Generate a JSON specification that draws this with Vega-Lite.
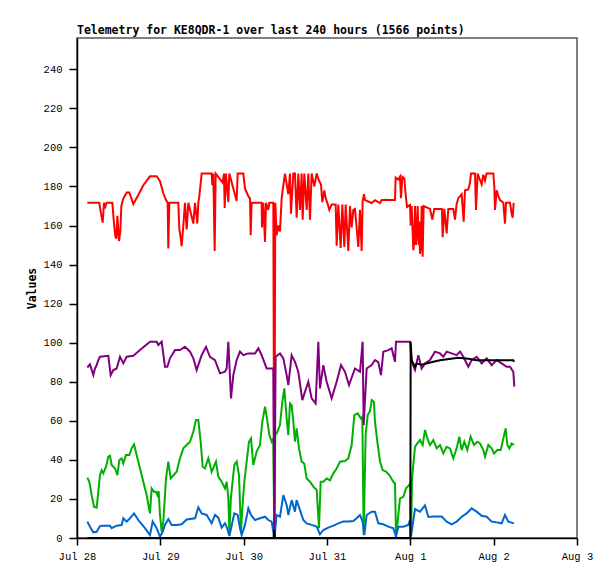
{
  "$schema": "https://vega.github.io/schema/vega-lite/v6.json",
  "width": 500,
  "height": 500,
  "autosize": {"type": "none"},
  "padding": {"left": 77, "top": 38, "right": 38, "bottom": 41},
  "background": "white",
  "title": {
    "text": "Telemetry for KE8QDR-1 over last 240 hours (1566 points)",
    "anchor": "start",
    "frame": "group",
    "font": "DejaVu Sans Mono",
    "fontSize": 11.5,
    "fontWeight": "bold",
    "color": "black",
    "offset": 2
  },
  "config": {
    "view": {"stroke": "#555555", "strokeWidth": 1.5},
    "axis": {
      "grid": false,
      "domainColor": "black",
      "domainWidth": 1.5,
      "tickColor": "black",
      "tickWidth": 1.5,
      "labelFont": "Liberation Mono",
      "labelFontSize": 10.5,
      "labelColor": "black",
      "labelFlush": false,
      "titleFont": "DejaVu Sans Mono",
      "titleColor": "black"
    }
  },
  "data": {
    "values": [
      {"s": "ch1", "h": 2.98, "v": 171.6}, {"s": "ch1", "h": 6.43, "v": 171.6}, {"s": "ch1", "h": 6.82, "v": 167},
      {"s": "ch1", "h": 7.39, "v": 161.5}, {"s": "ch1", "h": 7.78, "v": 171.6}, {"s": "ch1", "h": 8.16, "v": 169.6},
      {"s": "ch1", "h": 8.54, "v": 171.6}, {"s": "ch1", "h": 10.18, "v": 171.6}, {"s": "ch1", "h": 10.66, "v": 161},
      {"s": "ch1", "h": 11.04, "v": 154.5}, {"s": "ch1", "h": 11.33, "v": 153.3}, {"s": "ch1", "h": 11.62, "v": 165},
      {"s": "ch1", "h": 12.1, "v": 152}, {"s": "ch1", "h": 12.48, "v": 157}, {"s": "ch1", "h": 12.77, "v": 170},
      {"s": "ch1", "h": 13.34, "v": 173.8}, {"s": "ch1", "h": 14.3, "v": 176.9}, {"s": "ch1", "h": 15.07, "v": 176.9},
      {"s": "ch1", "h": 16.22, "v": 171}, {"s": "ch1", "h": 17.66, "v": 175.6}, {"s": "ch1", "h": 19.1, "v": 180.6},
      {"s": "ch1", "h": 21.02, "v": 185.2}, {"s": "ch1", "h": 22.94, "v": 185.2}, {"s": "ch1", "h": 23.9, "v": 182.7},
      {"s": "ch1", "h": 24.86, "v": 176.5}, {"s": "ch1", "h": 25.63, "v": 173}, {"s": "ch1", "h": 26.11, "v": 171.6},
      {"s": "ch1", "h": 26.3, "v": 148.2}, {"s": "ch1", "h": 26.59, "v": 171.6}, {"s": "ch1", "h": 29.18, "v": 171.6},
      {"s": "ch1", "h": 29.47, "v": 158.4}, {"s": "ch1", "h": 29.86, "v": 153.7}, {"s": "ch1", "h": 30.14, "v": 149.4},
      {"s": "ch1", "h": 30.62, "v": 160}, {"s": "ch1", "h": 31.1, "v": 171.6}, {"s": "ch1", "h": 31.58, "v": 158},
      {"s": "ch1", "h": 32.06, "v": 171.6}, {"s": "ch1", "h": 33.5, "v": 161}, {"s": "ch1", "h": 33.98, "v": 171.6},
      {"s": "ch1", "h": 34.66, "v": 161}, {"s": "ch1", "h": 34.94, "v": 171.6}, {"s": "ch1", "h": 35.23, "v": 175},
      {"s": "ch1", "h": 35.9, "v": 186.6}, {"s": "ch1", "h": 38.78, "v": 186.6}, {"s": "ch1", "h": 38.98, "v": 180.6},
      {"s": "ch1", "h": 39.26, "v": 186.6}, {"s": "ch1", "h": 39.65, "v": 147}, {"s": "ch1", "h": 39.94, "v": 186.6},
      {"s": "ch1", "h": 41.95, "v": 182}, {"s": "ch1", "h": 42.34, "v": 186.6}, {"s": "ch1", "h": 42.53, "v": 169},
      {"s": "ch1", "h": 42.91, "v": 186.6}, {"s": "ch1", "h": 43.58, "v": 172}, {"s": "ch1", "h": 43.87, "v": 186.6},
      {"s": "ch1", "h": 45.98, "v": 172.5}, {"s": "ch1", "h": 46.27, "v": 186.6}, {"s": "ch1", "h": 47.9, "v": 186.6},
      {"s": "ch1", "h": 48.38, "v": 179}, {"s": "ch1", "h": 49.34, "v": 175}, {"s": "ch1", "h": 49.82, "v": 173.8},
      {"s": "ch1", "h": 50.02, "v": 155}, {"s": "ch1", "h": 50.3, "v": 171.6}, {"s": "ch1", "h": 53.18, "v": 171.6},
      {"s": "ch1", "h": 53.28, "v": 159}, {"s": "ch1", "h": 53.66, "v": 171.6}, {"s": "ch1", "h": 54.14, "v": 151.6},
      {"s": "ch1", "h": 54.43, "v": 171.6}, {"s": "ch1", "h": 55.1, "v": 168}, {"s": "ch1", "h": 55.39, "v": 171.6},
      {"s": "ch1", "h": 56.54, "v": 171.6}, {"s": "ch1", "h": 56.82, "v": 0}, {"s": "ch1", "h": 57.1, "v": 171.6},
      {"s": "ch1", "h": 57.5, "v": 155}, {"s": "ch1", "h": 57.98, "v": 160}, {"s": "ch1", "h": 58.46, "v": 157},
      {"s": "ch1", "h": 58.94, "v": 173.8}, {"s": "ch1", "h": 59.42, "v": 180.6}, {"s": "ch1", "h": 59.9, "v": 186.6},
      {"s": "ch1", "h": 60.86, "v": 176}, {"s": "ch1", "h": 61.34, "v": 186.6}, {"s": "ch1", "h": 61.63, "v": 166},
      {"s": "ch1", "h": 62.3, "v": 186.6}, {"s": "ch1", "h": 62.78, "v": 186.6}, {"s": "ch1", "h": 63.26, "v": 164},
      {"s": "ch1", "h": 63.74, "v": 186.6}, {"s": "ch1", "h": 64.22, "v": 168}, {"s": "ch1", "h": 64.7, "v": 186.6},
      {"s": "ch1", "h": 64.99, "v": 163}, {"s": "ch1", "h": 65.47, "v": 186.6}, {"s": "ch1", "h": 66.14, "v": 168},
      {"s": "ch1", "h": 66.62, "v": 186.6}, {"s": "ch1", "h": 67.1, "v": 163}, {"s": "ch1", "h": 67.58, "v": 186.6},
      {"s": "ch1", "h": 68.35, "v": 180}, {"s": "ch1", "h": 69.02, "v": 186.6}, {"s": "ch1", "h": 69.69, "v": 183},
      {"s": "ch1", "h": 70.27, "v": 181}, {"s": "ch1", "h": 70.65, "v": 172}, {"s": "ch1", "h": 71.23, "v": 178},
      {"s": "ch1", "h": 71.61, "v": 174}, {"s": "ch1", "h": 72.09, "v": 171.6}, {"s": "ch1", "h": 72.67, "v": 168},
      {"s": "ch1", "h": 73.34, "v": 170.7}, {"s": "ch1", "h": 74.5, "v": 170.7}, {"s": "ch1", "h": 74.78, "v": 149.6},
      {"s": "ch1", "h": 75.26, "v": 170.7}, {"s": "ch1", "h": 75.93, "v": 148.5}, {"s": "ch1", "h": 76.41, "v": 170.7},
      {"s": "ch1", "h": 76.99, "v": 149}, {"s": "ch1", "h": 77.37, "v": 170.7}, {"s": "ch1", "h": 78.14, "v": 147},
      {"s": "ch1", "h": 78.62, "v": 170}, {"s": "ch1", "h": 79.1, "v": 159}, {"s": "ch1", "h": 79.58, "v": 168},
      {"s": "ch1", "h": 80.06, "v": 168.5}, {"s": "ch1", "h": 81.02, "v": 149}, {"s": "ch1", "h": 81.5, "v": 168},
      {"s": "ch1", "h": 81.98, "v": 147}, {"s": "ch1", "h": 82.27, "v": 172.5}, {"s": "ch1", "h": 82.65, "v": 176},
      {"s": "ch1", "h": 82.94, "v": 173}, {"s": "ch1", "h": 84.86, "v": 171.5}, {"s": "ch1", "h": 85.82, "v": 173},
      {"s": "ch1", "h": 87.26, "v": 171.5}, {"s": "ch1", "h": 87.74, "v": 173}, {"s": "ch1", "h": 91.58, "v": 173},
      {"s": "ch1", "h": 91.77, "v": 184.5}, {"s": "ch1", "h": 92.54, "v": 183.5}, {"s": "ch1", "h": 93.02, "v": 185},
      {"s": "ch1", "h": 93.31, "v": 174}, {"s": "ch1", "h": 93.7, "v": 185}, {"s": "ch1", "h": 94.27, "v": 184},
      {"s": "ch1", "h": 94.65, "v": 176}, {"s": "ch1", "h": 95.04, "v": 169.5}, {"s": "ch1", "h": 95.9, "v": 170.5},
      {"s": "ch1", "h": 96.1, "v": 160}, {"s": "ch1", "h": 96.38, "v": 170}, {"s": "ch1", "h": 96.86, "v": 147.3},
      {"s": "ch1", "h": 97.1, "v": 152}, {"s": "ch1", "h": 97.34, "v": 170}, {"s": "ch1", "h": 97.6, "v": 150},
      {"s": "ch1", "h": 97.82, "v": 155}, {"s": "ch1", "h": 98.11, "v": 170}, {"s": "ch1", "h": 98.4, "v": 150},
      {"s": "ch1", "h": 98.6, "v": 162}, {"s": "ch1", "h": 98.78, "v": 145.5}, {"s": "ch1", "h": 99.05, "v": 149},
      {"s": "ch1", "h": 99.26, "v": 170}, {"s": "ch1", "h": 99.55, "v": 144}, {"s": "ch1", "h": 99.84, "v": 170},
      {"s": "ch1", "h": 101.66, "v": 168.5}, {"s": "ch1", "h": 102.33, "v": 163}, {"s": "ch1", "h": 102.91, "v": 168.5},
      {"s": "ch1", "h": 105.1, "v": 168.5}, {"s": "ch1", "h": 105.31, "v": 154}, {"s": "ch1", "h": 105.79, "v": 168.5},
      {"s": "ch1", "h": 106.46, "v": 156}, {"s": "ch1", "h": 106.94, "v": 168.5}, {"s": "ch1", "h": 108.38, "v": 168.5},
      {"s": "ch1", "h": 108.86, "v": 163}, {"s": "ch1", "h": 109.34, "v": 171}, {"s": "ch1", "h": 109.82, "v": 174},
      {"s": "ch1", "h": 110.78, "v": 176}, {"s": "ch1", "h": 111.36, "v": 162}, {"s": "ch1", "h": 111.74, "v": 178},
      {"s": "ch1", "h": 112.7, "v": 178.5}, {"s": "ch1", "h": 113.18, "v": 182}, {"s": "ch1", "h": 113.47, "v": 186.6},
      {"s": "ch1", "h": 114.62, "v": 186.6}, {"s": "ch1", "h": 114.91, "v": 168}, {"s": "ch1", "h": 115.39, "v": 186.6},
      {"s": "ch1", "h": 116.54, "v": 181}, {"s": "ch1", "h": 117.02, "v": 186}, {"s": "ch1", "h": 117.5, "v": 183},
      {"s": "ch1", "h": 117.98, "v": 186.6}, {"s": "ch1", "h": 119.9, "v": 186.6}, {"s": "ch1", "h": 120.19, "v": 179.7},
      {"s": "ch1", "h": 120.38, "v": 168}, {"s": "ch1", "h": 120.86, "v": 178}, {"s": "ch1", "h": 121.34, "v": 175},
      {"s": "ch1", "h": 121.82, "v": 173}, {"s": "ch1", "h": 122.78, "v": 171.6}, {"s": "ch1", "h": 123.26, "v": 161},
      {"s": "ch1", "h": 123.55, "v": 171.6}, {"s": "ch1", "h": 124.7, "v": 171.6}, {"s": "ch1", "h": 125.18, "v": 166},
      {"s": "ch1", "h": 125.47, "v": 164}, {"s": "ch1", "h": 125.76, "v": 171.6},

      {"s": "ch2", "h": 2.98, "v": 30.9}, {"s": "ch2", "h": 3.55, "v": 28.8}, {"s": "ch2", "h": 4.22, "v": 22},
      {"s": "ch2", "h": 4.9, "v": 16}, {"s": "ch2", "h": 5.66, "v": 15.5}, {"s": "ch2", "h": 6.14, "v": 23.7},
      {"s": "ch2", "h": 6.62, "v": 32.2}, {"s": "ch2", "h": 7.1, "v": 34.8}, {"s": "ch2", "h": 7.58, "v": 33.1},
      {"s": "ch2", "h": 8.35, "v": 36.5}, {"s": "ch2", "h": 9.02, "v": 41.6}, {"s": "ch2", "h": 9.5, "v": 42.1},
      {"s": "ch2", "h": 9.98, "v": 37.4}, {"s": "ch2", "h": 10.94, "v": 35.6}, {"s": "ch2", "h": 11.62, "v": 32.2},
      {"s": "ch2", "h": 12.19, "v": 39.9}, {"s": "ch2", "h": 12.86, "v": 40.8}, {"s": "ch2", "h": 13.34, "v": 38.2},
      {"s": "ch2", "h": 14.11, "v": 42.5}, {"s": "ch2", "h": 15.07, "v": 42.5}, {"s": "ch2", "h": 15.74, "v": 45.9},
      {"s": "ch2", "h": 16.42, "v": 47.9}, {"s": "ch2", "h": 17.18, "v": 42.5}, {"s": "ch2", "h": 18.14, "v": 35.6},
      {"s": "ch2", "h": 19.1, "v": 28.8}, {"s": "ch2", "h": 20.06, "v": 22}, {"s": "ch2", "h": 21.02, "v": 12.6},
      {"s": "ch2", "h": 21.5, "v": 25.4}, {"s": "ch2", "h": 22.18, "v": 23.7}, {"s": "ch2", "h": 22.75, "v": 23.7},
      {"s": "ch2", "h": 23.14, "v": 22}, {"s": "ch2", "h": 23.52, "v": 24}, {"s": "ch2", "h": 23.9, "v": 11.8},
      {"s": "ch2", "h": 24.38, "v": 3.2}, {"s": "ch2", "h": 24.86, "v": 8.4}, {"s": "ch2", "h": 25.63, "v": 30.5},
      {"s": "ch2", "h": 26.3, "v": 39.1}, {"s": "ch2", "h": 26.98, "v": 30.5}, {"s": "ch2", "h": 27.74, "v": 32},
      {"s": "ch2", "h": 28.7, "v": 33.9}, {"s": "ch2", "h": 29.66, "v": 40.8}, {"s": "ch2", "h": 30.62, "v": 45.9},
      {"s": "ch2", "h": 31.58, "v": 47.6}, {"s": "ch2", "h": 32.54, "v": 49.3}, {"s": "ch2", "h": 33.5, "v": 54.4},
      {"s": "ch2", "h": 34.27, "v": 60.4}, {"s": "ch2", "h": 34.94, "v": 60.4}, {"s": "ch2", "h": 35.62, "v": 49.3},
      {"s": "ch2", "h": 36.19, "v": 36.5}, {"s": "ch2", "h": 36.86, "v": 35.6}, {"s": "ch2", "h": 37.82, "v": 40.8},
      {"s": "ch2", "h": 38.78, "v": 33.9}, {"s": "ch2", "h": 40.03, "v": 39.1}, {"s": "ch2", "h": 40.7, "v": 31.4},
      {"s": "ch2", "h": 41.66, "v": 28.8}, {"s": "ch2", "h": 42.62, "v": 25.4}, {"s": "ch2", "h": 43.1, "v": 28.8},
      {"s": "ch2", "h": 43.6, "v": 20}, {"s": "ch2", "h": 43.9, "v": 2}, {"s": "ch2", "h": 44.3, "v": 20},
      {"s": "ch2", "h": 45.31, "v": 37.4}, {"s": "ch2", "h": 45.98, "v": 39.1}, {"s": "ch2", "h": 46.65, "v": 32.2},
      {"s": "ch2", "h": 47.23, "v": 3}, {"s": "ch2", "h": 47.61, "v": 15}, {"s": "ch2", "h": 48.19, "v": 28.8},
      {"s": "ch2", "h": 48.86, "v": 39.1}, {"s": "ch2", "h": 49.53, "v": 49.3}, {"s": "ch2", "h": 50.11, "v": 51},
      {"s": "ch2", "h": 50.78, "v": 37.4}, {"s": "ch2", "h": 51.74, "v": 44.2}, {"s": "ch2", "h": 52.7, "v": 47.6},
      {"s": "ch2", "h": 53.37, "v": 59.5}, {"s": "ch2", "h": 54.14, "v": 67.2}, {"s": "ch2", "h": 54.72, "v": 61.2},
      {"s": "ch2", "h": 55.39, "v": 52.7}, {"s": "ch2", "h": 56.06, "v": 49.3}, {"s": "ch2", "h": 56.54, "v": 51},
      {"s": "ch2", "h": 56.82, "v": 0}, {"s": "ch2", "h": 57.1, "v": 54}, {"s": "ch2", "h": 57.5, "v": 53.6},
      {"s": "ch2", "h": 58.46, "v": 57.8}, {"s": "ch2", "h": 59.13, "v": 69.8}, {"s": "ch2", "h": 59.71, "v": 76.6},
      {"s": "ch2", "h": 60.38, "v": 61.2}, {"s": "ch2", "h": 60.86, "v": 52.7}, {"s": "ch2", "h": 61.34, "v": 68.9},
      {"s": "ch2", "h": 61.82, "v": 68}, {"s": "ch2", "h": 62.3, "v": 59.5}, {"s": "ch2", "h": 62.78, "v": 49.3},
      {"s": "ch2", "h": 63.26, "v": 56.1}, {"s": "ch2", "h": 63.93, "v": 45.9}, {"s": "ch2", "h": 64.7, "v": 39.1},
      {"s": "ch2", "h": 65.47, "v": 38}, {"s": "ch2", "h": 66.14, "v": 30.5}, {"s": "ch2", "h": 67.1, "v": 28.8},
      {"s": "ch2", "h": 68.06, "v": 26.3}, {"s": "ch2", "h": 69.02, "v": 24.6}, {"s": "ch2", "h": 69.7, "v": 5},
      {"s": "ch2", "h": 70.18, "v": 28.8}, {"s": "ch2", "h": 70.94, "v": 28.8}, {"s": "ch2", "h": 71.9, "v": 30.5},
      {"s": "ch2", "h": 72.86, "v": 29.5}, {"s": "ch2", "h": 73.82, "v": 33.1}, {"s": "ch2", "h": 74.78, "v": 35.6},
      {"s": "ch2", "h": 75.74, "v": 39.1}, {"s": "ch2", "h": 77.18, "v": 39.4}, {"s": "ch2", "h": 78.14, "v": 40.8},
      {"s": "ch2", "h": 79.1, "v": 47.6}, {"s": "ch2", "h": 79.87, "v": 62.9}, {"s": "ch2", "h": 80.83, "v": 63.8},
      {"s": "ch2", "h": 81.79, "v": 61.2}, {"s": "ch2", "h": 82.17, "v": 62}, {"s": "ch2", "h": 82.56, "v": 1.5},
      {"s": "ch2", "h": 83.13, "v": 52.7}, {"s": "ch2", "h": 83.71, "v": 63}, {"s": "ch2", "h": 84.38, "v": 65},
      {"s": "ch2", "h": 84.9, "v": 70.6}, {"s": "ch2", "h": 85.5, "v": 69.8}, {"s": "ch2", "h": 85.82, "v": 59.5},
      {"s": "ch2", "h": 86.49, "v": 49.3}, {"s": "ch2", "h": 87.26, "v": 39.1}, {"s": "ch2", "h": 88.03, "v": 34.8},
      {"s": "ch2", "h": 88.99, "v": 34}, {"s": "ch2", "h": 89.95, "v": 32.2}, {"s": "ch2", "h": 91.1, "v": 28.8},
      {"s": "ch2", "h": 91.58, "v": 28}, {"s": "ch2", "h": 91.87, "v": 1.5}, {"s": "ch2", "h": 92.35, "v": 8.4},
      {"s": "ch2", "h": 93.02, "v": 20.3}, {"s": "ch2", "h": 93.98, "v": 21.1}, {"s": "ch2", "h": 94.75, "v": 25.4},
      {"s": "ch2", "h": 95.71, "v": 27.1}, {"s": "ch2", "h": 96.0, "v": 28.8}, {"s": "ch2", "h": 96.2, "v": 1.5},
      {"s": "ch2", "h": 96.5, "v": 30.5}, {"s": "ch2", "h": 97.34, "v": 46.7}, {"s": "ch2", "h": 98.01, "v": 48.4},
      {"s": "ch2", "h": 98.78, "v": 50.1}, {"s": "ch2", "h": 99.55, "v": 47.6}, {"s": "ch2", "h": 100.22, "v": 55.3},
      {"s": "ch2", "h": 100.9, "v": 51}, {"s": "ch2", "h": 101.66, "v": 47.6}, {"s": "ch2", "h": 102.62, "v": 50.1},
      {"s": "ch2", "h": 103.58, "v": 45.9}, {"s": "ch2", "h": 104.54, "v": 47.6}, {"s": "ch2", "h": 105.5, "v": 43.3},
      {"s": "ch2", "h": 106.46, "v": 46.7}, {"s": "ch2", "h": 107.42, "v": 45.9}, {"s": "ch2", "h": 108.38, "v": 40.8},
      {"s": "ch2", "h": 109.34, "v": 45.9}, {"s": "ch2", "h": 110.11, "v": 51.9}, {"s": "ch2", "h": 110.78, "v": 45},
      {"s": "ch2", "h": 111.55, "v": 49.3}, {"s": "ch2", "h": 112.41, "v": 45}, {"s": "ch2", "h": 113.37, "v": 51.9},
      {"s": "ch2", "h": 114.33, "v": 47.6}, {"s": "ch2", "h": 115.29, "v": 49.3}, {"s": "ch2", "h": 116.06, "v": 48.4},
      {"s": "ch2", "h": 117.02, "v": 45}, {"s": "ch2", "h": 117.5, "v": 41.6}, {"s": "ch2", "h": 118.46, "v": 47.6},
      {"s": "ch2", "h": 119.42, "v": 45.9}, {"s": "ch2", "h": 120.1, "v": 43.3}, {"s": "ch2", "h": 121.06, "v": 45},
      {"s": "ch2", "h": 122.02, "v": 45}, {"s": "ch2", "h": 122.78, "v": 50.9}, {"s": "ch2", "h": 123.46, "v": 56.1},
      {"s": "ch2", "h": 123.94, "v": 47.6}, {"s": "ch2", "h": 124.5, "v": 45.9}, {"s": "ch2", "h": 125.18, "v": 48.4},
      {"s": "ch2", "h": 125.86, "v": 47.6},

      {"s": "ch3", "h": 2.98, "v": 8.4}, {"s": "ch3", "h": 3.74, "v": 5.8}, {"s": "ch3", "h": 4.7, "v": 2.9},
      {"s": "ch3", "h": 5.66, "v": 3.2}, {"s": "ch3", "h": 6.62, "v": 6.1}, {"s": "ch3", "h": 7.58, "v": 6.3},
      {"s": "ch3", "h": 9.5, "v": 6.3}, {"s": "ch3", "h": 9.98, "v": 5}, {"s": "ch3", "h": 11.42, "v": 6.3},
      {"s": "ch3", "h": 12.86, "v": 6.6}, {"s": "ch3", "h": 13.34, "v": 10.1}, {"s": "ch3", "h": 14.3, "v": 8.4},
      {"s": "ch3", "h": 15.26, "v": 10.1}, {"s": "ch3", "h": 16.42, "v": 12.6}, {"s": "ch3", "h": 17.66, "v": 9.2},
      {"s": "ch3", "h": 19.58, "v": 5}, {"s": "ch3", "h": 21.02, "v": 1.5}, {"s": "ch3", "h": 21.79, "v": 8.4},
      {"s": "ch3", "h": 22.94, "v": 5}, {"s": "ch3", "h": 23.9, "v": 0.7}, {"s": "ch3", "h": 24.67, "v": 3.2},
      {"s": "ch3", "h": 25.34, "v": 6.7}, {"s": "ch3", "h": 26.3, "v": 9.7}, {"s": "ch3", "h": 27.26, "v": 6.7},
      {"s": "ch3", "h": 28.7, "v": 6.7}, {"s": "ch3", "h": 30.14, "v": 7}, {"s": "ch3", "h": 31.58, "v": 9.5},
      {"s": "ch3", "h": 33.98, "v": 10.1}, {"s": "ch3", "h": 34.94, "v": 15.7}, {"s": "ch3", "h": 35.9, "v": 12.6},
      {"s": "ch3", "h": 37.34, "v": 11.8}, {"s": "ch3", "h": 37.82, "v": 10.4}, {"s": "ch3", "h": 38.78, "v": 7.5},
      {"s": "ch3", "h": 39.74, "v": 11.8}, {"s": "ch3", "h": 40.7, "v": 10.4}, {"s": "ch3", "h": 41.66, "v": 5.3},
      {"s": "ch3", "h": 42.62, "v": 7.5}, {"s": "ch3", "h": 43.1, "v": 5.8}, {"s": "ch3", "h": 43.9, "v": 1},
      {"s": "ch3", "h": 45.31, "v": 12.6}, {"s": "ch3", "h": 46.27, "v": 11.8}, {"s": "ch3", "h": 46.94, "v": 5},
      {"s": "ch3", "h": 47.42, "v": 1.5}, {"s": "ch3", "h": 48.38, "v": 6.7}, {"s": "ch3", "h": 49.34, "v": 15.2},
      {"s": "ch3", "h": 50.11, "v": 11.8}, {"s": "ch3", "h": 51.26, "v": 9.2}, {"s": "ch3", "h": 52.7, "v": 10.1},
      {"s": "ch3", "h": 54.14, "v": 10.9}, {"s": "ch3", "h": 55.1, "v": 9.2}, {"s": "ch3", "h": 56.06, "v": 8.4},
      {"s": "ch3", "h": 56.82, "v": 0}, {"s": "ch3", "h": 57.5, "v": 11.8}, {"s": "ch3", "h": 58.46, "v": 10.9},
      {"s": "ch3", "h": 59.42, "v": 22}, {"s": "ch3", "h": 60.38, "v": 16.9}, {"s": "ch3", "h": 60.86, "v": 11.8},
      {"s": "ch3", "h": 61.82, "v": 19.4}, {"s": "ch3", "h": 62.78, "v": 13.5}, {"s": "ch3", "h": 63.26, "v": 19.4},
      {"s": "ch3", "h": 64.22, "v": 14.3}, {"s": "ch3", "h": 65.18, "v": 9.2}, {"s": "ch3", "h": 66.14, "v": 7.5},
      {"s": "ch3", "h": 67.58, "v": 6.7}, {"s": "ch3", "h": 69.02, "v": 5.8}, {"s": "ch3", "h": 69.98, "v": 1.9},
      {"s": "ch3", "h": 70.94, "v": 4.1}, {"s": "ch3", "h": 72.38, "v": 5.3}, {"s": "ch3", "h": 73.82, "v": 6.3},
      {"s": "ch3", "h": 75.26, "v": 7.5}, {"s": "ch3", "h": 76.7, "v": 8.4}, {"s": "ch3", "h": 78.14, "v": 8.4},
      {"s": "ch3", "h": 79.58, "v": 8.7}, {"s": "ch3", "h": 80.54, "v": 10.1}, {"s": "ch3", "h": 81.5, "v": 11.8},
      {"s": "ch3", "h": 82.27, "v": 8.4}, {"s": "ch3", "h": 82.75, "v": 1.5}, {"s": "ch3", "h": 83.42, "v": 11.8},
      {"s": "ch3", "h": 84.86, "v": 13.5}, {"s": "ch3", "h": 85.82, "v": 13.5}, {"s": "ch3", "h": 86.78, "v": 7.5},
      {"s": "ch3", "h": 88.22, "v": 7}, {"s": "ch3", "h": 89.66, "v": 5.8}, {"s": "ch3", "h": 91.1, "v": 5},
      {"s": "ch3", "h": 91.87, "v": 0.7}, {"s": "ch3", "h": 92.54, "v": 5.8}, {"s": "ch3", "h": 93.98, "v": 5.8},
      {"s": "ch3", "h": 95.42, "v": 6.7}, {"s": "ch3", "h": 95.9, "v": 9.2}, {"s": "ch3", "h": 96.2, "v": 0.7},
      {"s": "ch3", "h": 97.34, "v": 14.8}, {"s": "ch3", "h": 98.78, "v": 13.5}, {"s": "ch3", "h": 100.22, "v": 16.7},
      {"s": "ch3", "h": 101.18, "v": 10.8}, {"s": "ch3", "h": 102.62, "v": 11}, {"s": "ch3", "h": 104.06, "v": 11},
      {"s": "ch3", "h": 105.02, "v": 11}, {"s": "ch3", "h": 106.46, "v": 8.4}, {"s": "ch3", "h": 107.9, "v": 7},
      {"s": "ch3", "h": 109.34, "v": 8.4}, {"s": "ch3", "h": 110.78, "v": 10.9}, {"s": "ch3", "h": 112.22, "v": 12.6},
      {"s": "ch3", "h": 113.66, "v": 15.2}, {"s": "ch3", "h": 115.1, "v": 13.5}, {"s": "ch3", "h": 116.54, "v": 11.4},
      {"s": "ch3", "h": 117.98, "v": 10.9}, {"s": "ch3", "h": 119.42, "v": 8.4}, {"s": "ch3", "h": 120.86, "v": 8},
      {"s": "ch3", "h": 122.3, "v": 7.5}, {"s": "ch3", "h": 123.26, "v": 11.8}, {"s": "ch3", "h": 124.22, "v": 8.4},
      {"s": "ch3", "h": 125.86, "v": 7.5},

      {"s": "ch4", "h": 2.98, "v": 87.3}, {"s": "ch4", "h": 3.74, "v": 88.9}, {"s": "ch4", "h": 4.7, "v": 83.4},
      {"s": "ch4", "h": 5.18, "v": 86.8}, {"s": "ch4", "h": 5.66, "v": 88.5}, {"s": "ch4", "h": 6.14, "v": 91.1},
      {"s": "ch4", "h": 6.62, "v": 92.8}, {"s": "ch4", "h": 9.02, "v": 93.3}, {"s": "ch4", "h": 9.7, "v": 83.4},
      {"s": "ch4", "h": 10.46, "v": 86}, {"s": "ch4", "h": 11.42, "v": 86.8}, {"s": "ch4", "h": 12.38, "v": 92.8},
      {"s": "ch4", "h": 13.34, "v": 89.4}, {"s": "ch4", "h": 14.3, "v": 92.8}, {"s": "ch4", "h": 16.22, "v": 93.3},
      {"s": "ch4", "h": 18.14, "v": 96.2}, {"s": "ch4", "h": 21.02, "v": 100.5}, {"s": "ch4", "h": 22.94, "v": 100.5},
      {"s": "ch4", "h": 23.42, "v": 98.8}, {"s": "ch4", "h": 24.38, "v": 100.5}, {"s": "ch4", "h": 25.34, "v": 87.7},
      {"s": "ch4", "h": 26.02, "v": 87.7}, {"s": "ch4", "h": 26.78, "v": 92}, {"s": "ch4", "h": 28.22, "v": 96.2},
      {"s": "ch4", "h": 29.66, "v": 96.2}, {"s": "ch4", "h": 31.1, "v": 97.9}, {"s": "ch4", "h": 32.54, "v": 95.4},
      {"s": "ch4", "h": 33.5, "v": 92}, {"s": "ch4", "h": 34.46, "v": 86}, {"s": "ch4", "h": 35.9, "v": 93.6},
      {"s": "ch4", "h": 37.15, "v": 97.9}, {"s": "ch4", "h": 38.3, "v": 92.8}, {"s": "ch4", "h": 39.74, "v": 91.1},
      {"s": "ch4", "h": 41.18, "v": 84.3}, {"s": "ch4", "h": 42.62, "v": 85.1}, {"s": "ch4", "h": 43.1, "v": 86.8},
      {"s": "ch4", "h": 43.58, "v": 100.5}, {"s": "ch4", "h": 44.35, "v": 71.5}, {"s": "ch4", "h": 45.02, "v": 83.4},
      {"s": "ch4", "h": 45.98, "v": 91.1}, {"s": "ch4", "h": 46.94, "v": 95.4}, {"s": "ch4", "h": 47.9, "v": 93.6},
      {"s": "ch4", "h": 49.34, "v": 94.5}, {"s": "ch4", "h": 51.26, "v": 94.5}, {"s": "ch4", "h": 52.22, "v": 97.1},
      {"s": "ch4", "h": 53.18, "v": 93.6}, {"s": "ch4", "h": 54.62, "v": 86.8}, {"s": "ch4", "h": 56.54, "v": 86.8},
      {"s": "ch4", "h": 56.82, "v": 0}, {"s": "ch4", "h": 57.21, "v": 92.8}, {"s": "ch4", "h": 58.46, "v": 94.5},
      {"s": "ch4", "h": 59.42, "v": 92}, {"s": "ch4", "h": 60.38, "v": 83.4}, {"s": "ch4", "h": 60.86, "v": 78.3},
      {"s": "ch4", "h": 61.82, "v": 93.6}, {"s": "ch4", "h": 62.78, "v": 90.2}, {"s": "ch4", "h": 63.74, "v": 85.1},
      {"s": "ch4", "h": 64.89, "v": 70.6}, {"s": "ch4", "h": 65.66, "v": 74.9}, {"s": "ch4", "h": 66.62, "v": 80},
      {"s": "ch4", "h": 67.58, "v": 71.5}, {"s": "ch4", "h": 68.73, "v": 68.9}, {"s": "ch4", "h": 69.5, "v": 100.5},
      {"s": "ch4", "h": 69.98, "v": 76.6}, {"s": "ch4", "h": 70.94, "v": 88.5}, {"s": "ch4", "h": 71.9, "v": 80},
      {"s": "ch4", "h": 73.34, "v": 71.5}, {"s": "ch4", "h": 74.78, "v": 80}, {"s": "ch4", "h": 76.03, "v": 88.5},
      {"s": "ch4", "h": 77.18, "v": 85.1}, {"s": "ch4", "h": 78.33, "v": 78.3}, {"s": "ch4", "h": 80.06, "v": 86.8},
      {"s": "ch4", "h": 81.5, "v": 85.1}, {"s": "ch4", "h": 82.27, "v": 100.5}, {"s": "ch4", "h": 82.56, "v": 57.8},
      {"s": "ch4", "h": 83.42, "v": 86.8}, {"s": "ch4", "h": 84.86, "v": 88.5}, {"s": "ch4", "h": 85.82, "v": 91.1},
      {"s": "ch4", "h": 86.78, "v": 90}, {"s": "ch4", "h": 87.55, "v": 83.4}, {"s": "ch4", "h": 88.22, "v": 95.4},
      {"s": "ch4", "h": 89.66, "v": 96.2}, {"s": "ch4", "h": 90.62, "v": 97.1}, {"s": "ch4", "h": 91.58, "v": 90.2},
      {"s": "ch4", "h": 91.87, "v": 100.5}, {"s": "ch4", "h": 95.9, "v": 100.5}, {"s": "ch4", "h": 96.38, "v": 90.2},
      {"s": "ch4", "h": 97.34, "v": 86}, {"s": "ch4", "h": 98.3, "v": 93.6}, {"s": "ch4", "h": 99.26, "v": 86.8},
      {"s": "ch4", "h": 100.22, "v": 89.4}, {"s": "ch4", "h": 101.66, "v": 91.1}, {"s": "ch4", "h": 103.1, "v": 95.4},
      {"s": "ch4", "h": 104.54, "v": 94.5}, {"s": "ch4", "h": 105.5, "v": 92.8}, {"s": "ch4", "h": 106.46, "v": 95.4},
      {"s": "ch4", "h": 107.9, "v": 94.5}, {"s": "ch4", "h": 109.34, "v": 93.6}, {"s": "ch4", "h": 110.3, "v": 95.4},
      {"s": "ch4", "h": 111.26, "v": 92.8}, {"s": "ch4", "h": 112.7, "v": 87.7}, {"s": "ch4", "h": 113.66, "v": 91.1},
      {"s": "ch4", "h": 115.1, "v": 92.8}, {"s": "ch4", "h": 116.54, "v": 89.4}, {"s": "ch4", "h": 117.98, "v": 92},
      {"s": "ch4", "h": 119.42, "v": 88.5}, {"s": "ch4", "h": 120.86, "v": 91.1}, {"s": "ch4", "h": 122.3, "v": 89.4},
      {"s": "ch4", "h": 123.74, "v": 87.7}, {"s": "ch4", "h": 124.7, "v": 87.7}, {"s": "ch4", "h": 125.66, "v": 85.1},
      {"s": "ch4", "h": 125.95, "v": 77.5},

      {"s": "ch5", "h": 2.98, "v": 0}, {"s": "ch5", "h": 56.6, "v": 0}, {"s": "ch5", "h": 56.82, "v": 4},
      {"s": "ch5", "h": 57.0, "v": 0}, {"s": "ch5", "h": 96.0, "v": 0}, {"s": "ch5", "h": 96.1, "v": 100.5},
      {"s": "ch5", "h": 96.38, "v": 91}, {"s": "ch5", "h": 97.34, "v": 87.7}, {"s": "ch5", "h": 97.8, "v": 89.3},
      {"s": "ch5", "h": 99.26, "v": 88.7}, {"s": "ch5", "h": 102.62, "v": 90.2}, {"s": "ch5", "h": 104.54, "v": 91},
      {"s": "ch5", "h": 109.82, "v": 92.3}, {"s": "ch5", "h": 112.7, "v": 91.8}, {"s": "ch5", "h": 115.1, "v": 91},
      {"s": "ch5", "h": 125.66, "v": 91}, {"s": "ch5", "h": 125.86, "v": 90.2}
    ]
  },
  "mark": {"type": "line", "strokeWidth": 2, "clip": true},
  "encoding": {
    "x": {
      "field": "h",
      "type": "quantitative",
      "scale": {"domain": [0, 144], "nice": false, "zero": false},
      "axis": {
        "values": [0, 24, 48, 72, 96, 120, 144],
        "labelExpr": "['Jul 28','Jul 29','Jul 30','Jul 31','Aug 1','Aug 2','Aug 3'][round(datum.value / 24)]",
        "title": null,
        "tickSize": 7,
        "labelPadding": 6
      }
    },
    "y": {
      "field": "v",
      "type": "quantitative",
      "scale": {"domain": [0, 256], "nice": false},
      "axis": {
        "values": [0, 20, 40, 60, 80, 100, 120, 140, 160, 180, 200, 220, 240],
        "title": "Values",
        "titleFontSize": 11.5,
        "titleFontWeight": "bold",
        "tickSize": 8,
        "labelPadding": 7,
        "titlePadding": 6
      }
    },
    "color": {
      "field": "s",
      "type": "nominal",
      "scale": {
        "domain": ["ch1", "ch2", "ch3", "ch4", "ch5"],
        "range": ["#ff0000", "#00b000", "#0066cc", "#800080", "#000000"]
      },
      "legend": null
    }
  }
}
